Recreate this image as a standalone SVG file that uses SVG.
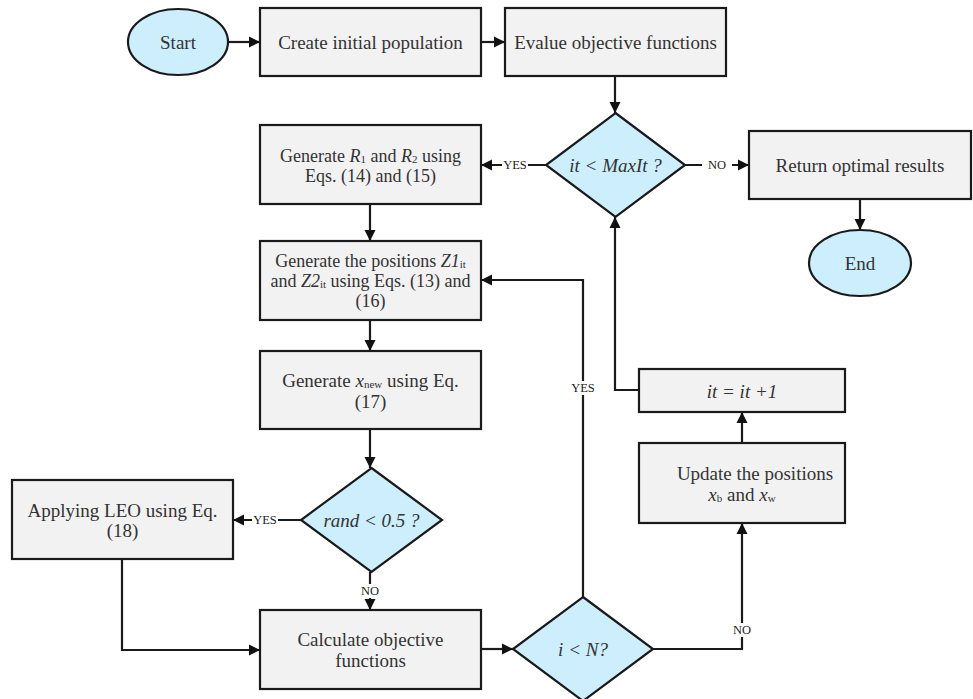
<svg xmlns="http://www.w3.org/2000/svg" width="973" height="699" viewBox="0 0 973 699">
<defs>
<marker id="ah" markerUnits="userSpaceOnUse" markerWidth="12" markerHeight="12" refX="11" refY="6" orient="auto">
<path d="M0,0.5 L11,6 L0,11.5 z" fill="#111"/>
</marker>
<style>
.box{fill:#f2f2f2;stroke:#1a1a1a;stroke-width:2.2}
.term{fill:#cdeefd;stroke:#1a1a1a;stroke-width:2.2}
.t{font-family:"Liberation Serif","DejaVu Serif",serif;font-size:19px;fill:#333;text-anchor:middle;dominant-baseline:central}
.t2{font-size:18px}
.m{font-style:italic}
.s{font-size:11px}
.lab{font-family:"Liberation Serif","DejaVu Serif",serif;font-size:12.5px;fill:#222;text-anchor:middle;dominant-baseline:central}
.bg{fill:#fff}
.c{fill:none;stroke:#1a1a1a;stroke-width:2.2}
.a{marker-end:url(#ah)}
</style>
</defs>
<rect width="973" height="699" fill="#fff"/>
<g id="connectors">
<path class="c a" d="M229,42 H260"/>
<path class="c a" d="M481,42 H505"/>
<path class="c a" d="M615,76 V113"/>
<path class="c a" d="M685,165 H749"/>
<path class="c a" d="M860,199 V230"/>
<path class="c a" d="M546,165 H481"/>
<path class="c a" d="M370,204 V241"/>
<path class="c a" d="M370,320 V351"/>
<path class="c a" d="M370,429 V468"/>
<path class="c a" d="M301,520 H233"/>
<path class="c a" d="M370,572 V610"/>
<path class="c a" d="M122,559 V650 H260"/>
<path class="c a" d="M481,649 H513"/>
<path class="c a" d="M583,597 V280 H481"/>
<path class="c a" d="M652,649 H742 V523"/>
<path class="c a" d="M742,443 V412"/>
<path class="c a" d="M639,390 H615 V217"/>
<rect class="bg" x="702" y="158" width="30" height="14"/>
<text class="lab" x="717" y="165">NO</text>
<rect class="bg" x="502" y="158" width="26" height="14"/>
<text class="lab" x="515" y="165">YES</text>
<rect class="bg" x="252" y="513" width="26" height="14"/>
<text class="lab" x="265" y="520">YES</text>
<rect class="bg" x="358" y="584" width="24" height="14"/>
<text class="lab" x="370" y="591">NO</text>
<rect class="bg" x="570" y="381" width="26" height="14"/>
<text class="lab" x="583" y="388">YES</text>
<rect class="bg" x="730" y="623" width="24" height="14"/>
<text class="lab" x="742" y="630">NO</text>
</g>
<g id="start"><ellipse class="term" cx="178" cy="42" rx="50" ry="33"/><text class="t" x="178" y="42">Start</text></g>
<g id="create"><rect class="box" x="260" y="8" width="221" height="68"/><text class="t" x="370.5" y="42">Create initial population</text></g>
<g id="evalue"><rect class="box" x="505" y="8" width="221" height="68"/><text class="t" x="615.5" y="42">Evalue objective functions</text></g>
<g id="cond-maxit"><polygon class="term" points="615.5,113 685,165 615.5,217 546,165"/><text class="t m" x="615.5" y="165">it &lt; MaxIt ?</text></g>
<g id="return"><rect class="box" x="749" y="131" width="222" height="68"/><text class="t" x="860" y="165">Return optimal results</text></g>
<g id="end"><ellipse class="term" cx="860" cy="263" rx="51" ry="33"/><text class="t" x="860" y="263">End</text></g>
<g id="gen-r"><rect class="box" x="260" y="125" width="221" height="79"/>
<text class="t t2" x="370.5" y="156">Generate <tspan class="m">R</tspan><tspan class="s" dy="3">1</tspan><tspan dy="-3"> and </tspan><tspan class="m">R</tspan><tspan class="s" dy="3">2</tspan><tspan dy="-3"> using</tspan></text>
<text class="t t2" x="370.5" y="176">Eqs. (14) and (15)</text></g>
<g id="gen-pos"><rect class="box" x="260" y="241" width="221" height="79"/>
<text class="t t2" x="370.5" y="261">Generate the positions <tspan class="m">Z1</tspan><tspan class="s" dy="3">it</tspan></text>
<text class="t t2" x="370.5" y="281">and <tspan class="m">Z2</tspan><tspan class="s" dy="3">it</tspan><tspan dy="-3"> using Eqs. (13) and</tspan></text>
<text class="t t2" x="370.5" y="301">(16)</text></g>
<g id="gen-x"><rect class="box" x="260" y="351" width="221" height="78"/>
<text class="t" x="370.5" y="380">Generate <tspan class="m">x</tspan><tspan class="s" dy="4">new</tspan><tspan dy="-4"> using Eq.</tspan></text>
<text class="t" x="370.5" y="401">(17)</text></g>
<g id="cond-rand"><polygon class="term" points="371.5,468 442,520 371.5,572 301,520"/><text class="t m" x="371.5" y="520">rand &lt; 0.5 ?</text></g>
<g id="leo"><rect class="box" x="12" y="480" width="221" height="79"/>
<text class="t" x="122.5" y="510">Applying LEO using Eq.</text>
<text class="t" x="122.5" y="530">(18)</text></g>
<g id="calc"><rect class="box" x="260" y="610" width="221" height="79"/>
<text class="t" x="370.5" y="639">Calculate objective</text>
<text class="t" x="370.5" y="660">functions</text></g>
<g id="cond-n"><polygon class="term" points="583,597 653,649 583,701 513,649"/><text class="t m" x="583" y="649">i &lt; N?</text></g>
<g id="update"><rect class="box" x="639" y="443" width="206" height="80"/>
<text class="t" x="755" y="473">Update the positions</text>
<text class="t" x="742" y="494"><tspan class="m">x</tspan><tspan class="s" dy="4">b</tspan><tspan dy="-4">  and </tspan><tspan class="m">x</tspan><tspan class="s" dy="4">w</tspan></text></g>
<g id="incr"><rect class="box" x="639" y="369" width="206" height="43"/><text class="t m" x="742" y="391">it = it +1</text></g>
</svg>
